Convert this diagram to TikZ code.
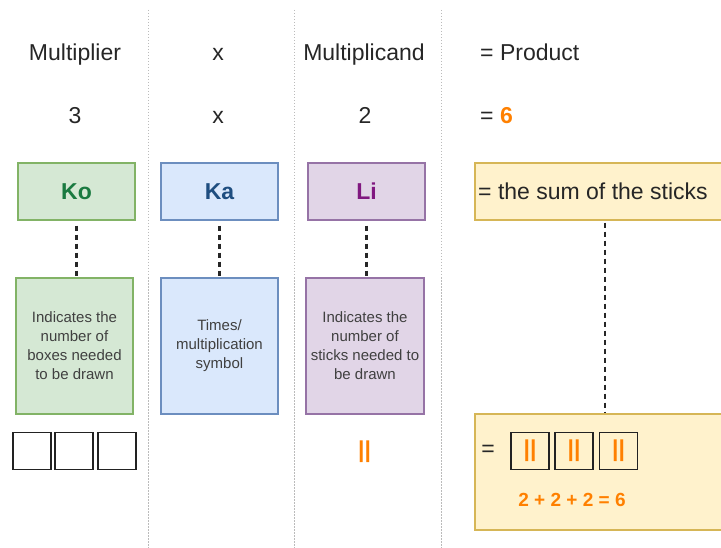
\documentclass[tikz,border=0pt]{standalone}
\usepackage{fontspec}
\setmainfont{Liberation Sans}
\definecolor{gfill}{HTML}{D5E8D4}\definecolor{gline}{HTML}{82B366}
\definecolor{bfill}{HTML}{DAE8FC}\definecolor{bline}{HTML}{6C8EBF}
\definecolor{pfill}{HTML}{E1D5E7}\definecolor{pline}{HTML}{9673A6}
\definecolor{yfill}{HTML}{FFF2CC}\definecolor{yline}{HTML}{D6B656}
\definecolor{kotext}{HTML}{1A7A40}\definecolor{katext}{HTML}{1F4E80}
\definecolor{litext}{HTML}{801880}\definecolor{orng}{HTML}{FF8000}
\definecolor{divgray}{HTML}{BBBBBB}\definecolor{sqline}{HTML}{222222}
\begin{document}
\begin{tikzpicture}[x=1pt,y=-1pt,
  hdr/.style={font=\fontsize{23}{28}\selectfont, inner sep=0pt, text=black!85},
  topbox/.style={draw, line width=1.3pt, minimum width=117pt, minimum height=57pt, inner sep=0pt, font=\fontsize{23}{28}\selectfont\bfseries},
  lowbox/.style={draw, line width=1.3pt, minimum width=117pt, minimum height=136pt, inner sep=0pt, align=center, font=\fontsize{15}{19}\selectfont, text=black!75},
  ybox/.style={draw=yline, fill=yfill, line width=1.3pt, minimum width=260pt, inner sep=0pt},
  sq/.style={draw=sqline, line width=1.8pt, minimum width=38pt, minimum height=37pt, inner sep=0pt},
  sticks/.style={inner sep=0pt, text=orng, font=\fontsize{23}{28}\selectfont\bfseries},
  conn/.style={line width=2.2pt, dash pattern=on 5pt off 4pt, black!85},
  divider/.style={divgray, line width=0.8pt, dash pattern=on 1.5pt off 1.5pt}]
\useasboundingbox (0,0) rectangle (721,548);
\clip (0,0) rectangle (721,548);
% dividers
\draw[divider] (148,10) -- (148,548);
\draw[divider] (294,10) -- (294,548);
\draw[divider] (441,10) -- (441,548);
% header rows
\node[hdr, anchor=base] (h1) at (75,60.5) {Multiplier};
\node[hdr, anchor=base] (h2) at (218,60.5) {x};
\node[hdr, anchor=base] (h3) at (364,60.5) {Multiplicand};
\node[hdr, anchor=base west] (h4) at (480,60.5) {= Product};
\node[hdr, anchor=base] (n1) at (75,124) {3};
\node[hdr, anchor=base] (n2) at (218,124) {x};
\node[hdr, anchor=base] (n3) at (365,124) {2};
\node[hdr, anchor=base west] (n4) at (480,124) {= \textcolor{orng}{\bfseries 6}};
% top boxes
\node[topbox, draw=gline, fill=gfill, text=kotext] (ko) at (76.5,191.5) {Ko};
\node[topbox, draw=bline, fill=bfill, text=katext] (ka) at (219.5,191.5) {Ka};
\node[topbox, draw=pline, fill=pfill, text=litext] (li) at (366.5,191.5) {Li};
\node[ybox, minimum height=57pt] (sum) at (605,191.5) {};
\node[hdr, anchor=base west] (sumt) at (478,199.5) {= the sum of the sticks};
% lower boxes
\node[lowbox, draw=gline, fill=gfill] (kod) at (74.5,346) {Indicates the\\number of\\boxes needed\\to be drawn};
\node[lowbox, draw=bline, fill=bfill] (kad) at (219.5,346) {Times/\\multiplication\\symbol};
\node[lowbox, draw=pline, fill=pfill, minimum width=118pt] (lid) at (365,346) {Indicates the\\number of\\sticks needed to\\be drawn};
\node[ybox, minimum height=116pt] (res) at (605,472) {};
% connectors
\draw[conn] (ko.south) ++(0,5) -- (ko.south |- kod.north);
\draw[conn] (ka.south) ++(0,5) -- (ka.south |- kad.north);
\draw[conn] (li.south) ++(0,5) -- (li.south |- lid.north);
\draw[conn] (sum.south) ++(0,2) -- (res.north);
% multiplier squares
\node[sq] (s1) at (32,451) {};
\node[sq] (s2) at (74,451) {};
\node[sq] (s3) at (117,451) {};
% multiplicand sticks
\node[sticks] (st) at (364.5,451.5) {||};
% result
\node[hdr] (eq) at (488,451) {=};
\node[sq] (r1) at (530,451) {};
\node[sq] (r2) at (574,451) {};
\node[sq] (r3) at (618.5,451) {};
\node[sticks] at (r1) {||};
\node[sticks] at (r2) {||};
\node[sticks] at (r3) {||};
\node[inner sep=0pt, text=orng, font=\fontsize{19}{23}\selectfont\bfseries] (sumeq) at (572,500) {2 + 2 + 2 = 6};
\end{tikzpicture}
\end{document}
